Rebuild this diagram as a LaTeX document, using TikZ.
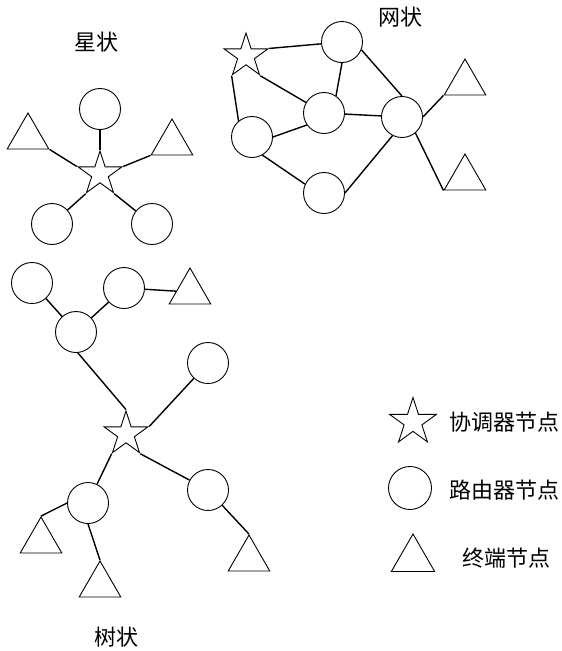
\documentclass[tikz,border=0pt]{standalone}
\usepackage{fontspec}
\newfontfamily\cjk{Noto Sans CJK SC}
\usetikzlibrary{shapes.geometric}
\begin{document}
\begin{tikzpicture}[x=1pt, y=-1pt,
    router/.style={draw, circle, line width=0.9pt, minimum size=41pt, inner sep=0pt},
    coordinator/.style={draw, star, star points=5, star point ratio=2.618,
        line width=0.9pt, minimum size=46pt, inner sep=0pt},
    terminal/.style={draw, regular polygon, regular polygon sides=3,
        line width=0.9pt, minimum size=48pt, inner sep=0pt},
    link/.style={line width=1.4pt},
    caption/.style={font=\cjk\fontsize{22}{22}\selectfont, inner sep=0pt}]
    \useasboundingbox (0,0) rectangle (562,651);

    % star topology
    \node[caption] (sTitle) at (96,42) {星状};
    \node[coordinator] (sS) at (100,174) {};
    \foreach \n/\x/\y in {sR1/100/109, sR2/52/224, sR3/152/224}
        \node[router] (\n) at (\x,\y) {};
    \node[terminal] (sT1) at (28,137) {};
    \node[terminal] (sT2) at (172,143) {};
    \foreach \a/\b in {sR1/sS.outer point 1, sT1.corner 3/sS.outer point 2,
        sT2.corner 2/sS.outer point 5, sR2/sS.outer point 3, sR3/sS.outer point 4}
        \draw[link] (\a) -- (\b);

    % mesh topology
    \node[caption] (mTitle) at (400,17) {网状};
    \node[coordinator] (mS) at (246,56) {};
    \foreach \n/\x/\y in {mA/342/42, mB/324/113, mC/252/137, mD/402/117, mE/324/193}
        \node[router] (\n) at (\x,\y) {};
    \node[terminal] (mT1) at (465,83) {};
    \node[terminal] (mT2) at (465,178) {};
    \foreach \a/\b in {mS.outer point 5/mA, mS.outer point 4/mB, mS.outer point 3/mC.130,
        mA.south/mB.55, mA.-22/mD.north, mB/mD, mB.-145/mC.east, mC.-60/mE.155,
        mE.east/mD.-117, mD.east/mT1.corner 2, mD.-50/mT2.corner 2}
        \draw[link] (\a) -- (\b);

    % tree topology
    \node[coordinator] (tS) at (126,434) {};
    \foreach \n/\x/\y in {tR1/32/283, tR2/124/288, tR3/76/332, tR4/208/363,
        tR5/88/503, tR6/208/490}
        \node[router] (\n) at (\x,\y) {};
    \foreach \n/\x/\y in {tT1/190/292, tT2/41/541, tT3/100/585, tT4/249/559}
        \node[terminal] (\n) at (\x,\y) {};
    \foreach \a/\b in {tR1/tR3, tR3/tR2, tR2/tT1, tR3.-85/tS.outer point 1,
        tS.outer point 5/tR4, tS.outer point 3/tR5, tS.outer point 4/tR6,
        tR5.west/tT2.corner 1, tR5.south/tT3.corner 1, tR6/tT4.corner 1}
        \draw[link] (\a) -- (\b);
    \node[caption] (tTitle) at (116,637) {树状};

    % legend
    \node[coordinator, minimum size=49pt] (lS) at (413,422) {};
    \node[router, minimum size=43pt] (lR) at (410,488) {};
    \node[terminal, minimum size=50pt] (lT) at (413,559) {};
    \node[caption, anchor=west] (lSText) at (449,422) {协调器节点};
    \node[caption, anchor=west] (lRText) at (449,490) {路由器节点};
    \node[caption, anchor=west] (lTText) at (462,558) {终端节点};
\end{tikzpicture}
\end{document}
